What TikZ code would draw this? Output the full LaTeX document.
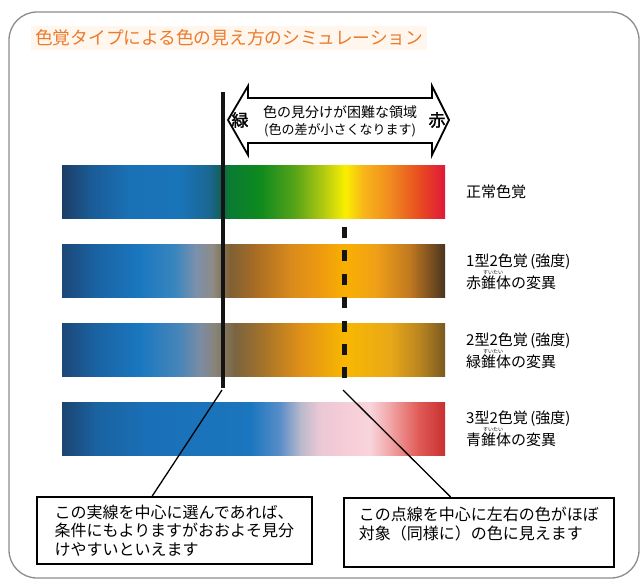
\documentclass[tikz,border=0pt]{standalone}
\usepackage{fontspec}
\newfontfamily\jp{Noto Sans CJK JP}
\newfontfamily\jpb[FakeBold=1.6]{Noto Sans CJK JP}
\usetikzlibrary{calc}
% normal
\definecolor{nA}{HTML}{1C3E66}\definecolor{nB}{HTML}{1A5A96}\definecolor{nC}{HTML}{1A72B6}
\definecolor{nD}{HTML}{1A74B8}\definecolor{nE}{HTML}{1A6690}\definecolor{nF}{HTML}{12604C}
\definecolor{nG}{HTML}{0A7A34}\definecolor{nH}{HTML}{0E8A1E}\definecolor{nI}{HTML}{58A418}
\definecolor{nJ}{HTML}{B8CC10}\definecolor{nK}{HTML}{F8F000}\definecolor{nL}{HTML}{F8B818}
\definecolor{nM}{HTML}{F08A20}\definecolor{nN}{HTML}{E84A20}\definecolor{nO}{HTML}{E0183A}
% protan
\definecolor{pA}{HTML}{1C4878}\definecolor{pB}{HTML}{1A62A2}\definecolor{pC}{HTML}{1A78C0}
\definecolor{pD}{HTML}{3A86BE}\definecolor{pE}{HTML}{7A90AC}\definecolor{pF}{HTML}{8E8C88}
\definecolor{pG}{HTML}{806034}\definecolor{pH}{HTML}{A86C24}\definecolor{pI}{HTML}{D88A1C}
\definecolor{pJ}{HTML}{EE9A10}\definecolor{pK}{HTML}{F8B000}\definecolor{pL}{HTML}{F0A018}
\definecolor{pM}{HTML}{C07820}\definecolor{pN}{HTML}{4A3420}
% deutan
\definecolor{dA}{HTML}{1C4878}\definecolor{dB}{HTML}{1A62A2}\definecolor{dC}{HTML}{1A78C0}
\definecolor{dD}{HTML}{4A86B8}\definecolor{dE}{HTML}{7C8CA4}\definecolor{dF}{HTML}{888478}
\definecolor{dG}{HTML}{7A6440}\definecolor{dH}{HTML}{A87428}\definecolor{dI}{HTML}{E09018}
\definecolor{dJ}{HTML}{F8B800}\definecolor{dK}{HTML}{E8A818}\definecolor{dL}{HTML}{B88420}
\definecolor{dM}{HTML}{7A5A20}
% tritan
\definecolor{tA}{HTML}{1C4470}\definecolor{tB}{HTML}{1A62A0}\definecolor{tC}{HTML}{1A70B8}
\definecolor{tD}{HTML}{1A76BE}\definecolor{tE}{HTML}{5A8EC8}\definecolor{tF}{HTML}{B8B8CC}
\definecolor{tG}{HTML}{E8C8D4}\definecolor{tH}{HTML}{F6CCD8}\definecolor{tI}{HTML}{F8D4DC}
\definecolor{tJ}{HTML}{F0A0A0}\definecolor{tK}{HTML}{E05C58}\definecolor{tL}{HTML}{C83030}
\definecolor{titlec}{HTML}{EC7A2C}
\definecolor{titlebg}{HTML}{FFF7EE}
\newcommand\colbar[2]{%
  \foreach \a/\b/\c/\d in {#2} {
    \shade[left color=\c,right color=\d] (\a,#1) rectangle ({\b+0.5},{#1+53});
  }}
\begin{document}
\begin{tikzpicture}[x=1pt,y=-1pt,
  frame/.style={draw=black!45, line width=1.3pt, rounded corners=28pt},
  lbl/.style={font=\jp\fontsize{15}{22}\selectfont, anchor=west, align=left, inner sep=0pt},
  ruby/.style={font=\jp\fontsize{5}{5}\selectfont, inner sep=0pt},
  note/.style={draw=black, line width=1.8pt, font=\jp\fontsize{16}{18.5}\selectfont,
    align=left, inner sep=0pt, anchor=north west},
  conn/.style={draw=black, line width=1.3pt},
  arrowtxt/.style={font=\jp\fontsize{14}{16}\selectfont, inner sep=0pt},
  endtxt/.style={font=\jpb\fontsize{17}{17}\selectfont, inner sep=0pt}]
\useasboundingbox (0,0) rectangle (642,581);
\draw[frame] (9,12) rectangle (639,578);
\node[font=\jp\fontsize{17.7}{18}\selectfont, text=titlec, fill=titlebg, inner sep=4pt, anchor=west] (title) at (31,38) {色覚タイプによる色の見え方のシミュレーション};
% bars
\colbar{165}{62/90/nA/nB, 90/130/nB/nC, 130/180/nC/nD, 180/210/nD/nE, 210/222/nE/nF, 222/228/nF/nG, 228/260/nG/nH, 260/295/nH/nI, 295/325/nI/nJ, 325/345/nJ/nK, 345/362/nK/nL, 362/390/nL/nM, 390/420/nM/nN, 420/444.5/nN/nO}
\colbar{244}{62/95/pA/pB, 95/140/pB/pC, 140/175/pC/pD, 175/195/pD/pE, 195/212/pE/pF, 212/230/pF/pG, 230/255/pG/pH, 255/290/pH/pI, 290/320/pI/pJ, 320/345/pJ/pK, 345/375/pK/pL, 375/410/pL/pM, 410/444.5/pM/pN}
\colbar{323}{62/95/dA/dB, 95/140/dB/dC, 140/180/dC/dD, 180/200/dD/dE, 200/215/dE/dF, 215/235/dF/dG, 235/265/dG/dH, 265/300/dH/dI, 300/345/dI/dJ, 345/390/dJ/dK, 390/420/dK/dL, 420/444.5/dL/dM}
\colbar{402}{62/95/tA/tB, 95/150/tB/tC, 150/250/tC/tD, 250/280/tD/tE, 280/300/tE/tF, 300/318/tF/tG, 318/345/tG/tH, 345/370/tH/tI, 370/392/tI/tJ, 392/418/tJ/tK, 418/444.5/tK/tL}
% labels
\node[lbl] (l0) at (466,192) {正常色覚};
\node[lbl] (l1) at (466,272) {1型2色覚\,(強度)\\赤錐体の変異};
\node[ruby] (r1) at (493,272.5) {すいたい};
\node[lbl] (l2) at (466,351) {2型2色覚\,(強度)\\緑錐体の変異};
\node[ruby] (r2) at (493,351.5) {すいたい};
\node[lbl] (l3) at (466,429) {3型2色覚\,(強度)\\青錐体の変異};
\node[ruby] (r3) at (493,429.5) {すいたい};
% double arrow
\draw[line width=1.8pt, fill=white, line join=miter]
  (228,120) -- (248,86) -- (248,98) -- (432,98) -- (432,86) -- (449,120)
  -- (432,155) -- (432,143) -- (248,143) -- (248,155) -- cycle;
\node[endtxt] (green) at (240,120) {緑};
\node[endtxt] (red) at (437,120) {赤};
\node[arrowtxt] (a1) at (340,112) {色の見分けが困難な領域};
\node[font=\jp\fontsize{13}{14}\selectfont, inner sep=0pt] (a2) at (340,130) {(色の差が小さくなります)};
% lines
\coordinate (stop) at (223,92);
\coordinate (sbot) at (223,388);
\coordinate (dtop) at (344,227);
\coordinate (dbot) at (344,379);
\draw[line width=4.6pt, black!92] (stop) -- (sbot);
\draw[line width=5pt, black!92, dash pattern=on 11pt off 12.4pt] (dtop) -- (dbot);
% notes
\node[note, minimum width=275pt, minimum height=67pt] (lbox) at (36,496)
  {この実線を中心に選んであれば、\\条件にもよりますがおおよそ見分\\けやすいといえます};
\node[note, minimum width=270pt, minimum height=69pt] (rbox) at (343,497)
  {この点線を中心に左右の色がほぼ\\対象（同様に）の色に見えます\\\mbox{}};
\coordinate (sfrom) at (222,390);
\coordinate (dfrom) at (343,390);
\draw[conn] (sfrom) -- ($(lbox.north west)!0.42!(lbox.north east)$);
\draw[conn] (dfrom) -- ($(rbox.north west)!0.396!(rbox.north east)$);
\end{tikzpicture}
\end{document}
